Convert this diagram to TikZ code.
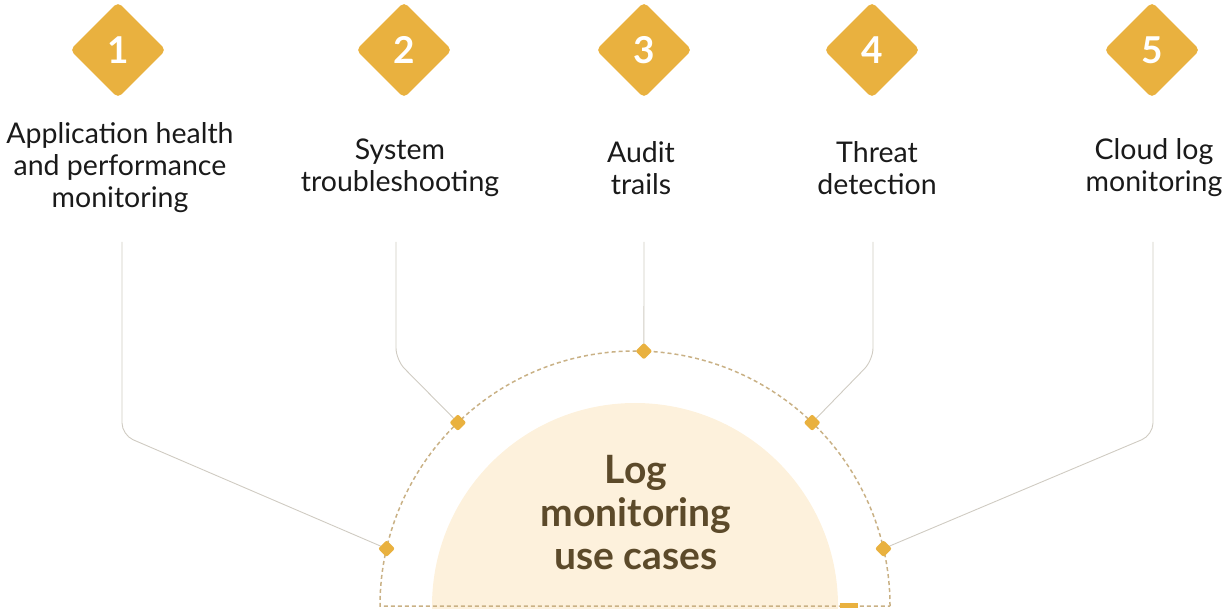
\documentclass[tikz,border=0pt]{standalone}
\usepackage{fontspec}
\setmainfont{Lato}
\usetikzlibrary{shapes.geometric}

\definecolor{gold}{HTML}{E9B13F}
\definecolor{cream}{HTML}{FDF1DC}
\definecolor{dashtan}{HTML}{C9B185}
\definecolor{linkgray}{HTML}{CFCBC2}
\definecolor{titlebrown}{HTML}{5C4A2A}
\definecolor{casetextcol}{HTML}{1A1A1A}

\tikzset{
	numbox/.style={diamond, fill=gold, minimum width=96pt, minimum height=96pt, inner sep=0pt, rounded corners=5pt, text=white, font=\fontsize{37}{37}\selectfont\bfseries},
	casetext/.style={align=center, text=casetextcol, font=\fontsize{28.5}{32}\selectfont},
	arcdot/.style={diamond, fill=gold, minimum width=17pt, minimum height=17pt, inner sep=0pt, rounded corners=2pt},
	link/.style={draw=linkgray, line width=0.9pt, rounded corners=12pt},
}

\begin{document}
\begin{tikzpicture}[x=1pt,y=1pt]
			\useasboundingbox (0,0) rectangle (1228,608);
			\coordinate (O) at (635,2);
			
			% half discs
			\begin{scope}
				\clip (0,0) rectangle (1228,608);
				\fill[cream] (O) circle (203);
			\end{scope}
			\draw[dashtan, line width=1.5pt, dash pattern=on 4pt off 3pt] (O) ++(255,0) arc (0:180:255) -- cycle;
			\fill[gold] (840,0) rectangle (858,4.7);
			\node[align=center, text=titlebrown, font=\fontsize{39}{43}\selectfont\bfseries] (title) at (636,95) {Log\\monitoring\\use cases};
			
			% numbered diamonds
			\node[numbox] (n1) at (118,558) {1};
			\node[numbox] (n2) at (404,558) {2};
			\node[numbox] (n3) at (644,558) {3};
			\node[numbox] (n4) at (872,558) {4};
			\node[numbox] (n5) at (1152,558) {5};
			
			\node[casetext] (t1) at (120,440) {Application health\\and performance\\monitoring};
			\node[casetext] (t2) at (400,440) {System\\troubleshooting};
			\node[casetext] (t3) at (641,440) {Audit\\trails};
			\node[casetext] (t4) at (877,440) {Threat\\detection};
			\node[casetext] (t5) at (1154,440) {Cloud log\\monitoring};
			
			% points on the arc
			\path (O) ++(167:255) coordinate (d1);
			\path (O) ++(134:255) coordinate (d2);
			\path (O) ++(88:255) coordinate (d3);
			\path (O) ++(46:255) coordinate (d4);
			\path (O) ++(13:255) coordinate (d5);
			
			\coordinate (s1) at (122,366);
			\coordinate (s2) at (396,366);
			\coordinate (s3) at (644,366);
			\coordinate (s4) at (873,366);
			\coordinate (s5) at (1153,366);
			\coordinate (b1) at (122,173);
			\coordinate (b2) at (396,248);
			\coordinate (b4) at (873,248);
			\coordinate (b5) at (1153,173);
			
			\draw[link] (s1) -- (b1) -- (d1);
			\draw[link] (s2) -- (b2) -- (d2);
			\draw[link] (s3) -- (d3);
			\draw[link] (s4) -- (b4) -- (d4);
			\draw[link] (s5) -- (b5) -- (d5);
			
			\node[arcdot] (dot1) at (d1) {};
			\node[arcdot] (dot2) at (d2) {};
			\node[arcdot] (dot3) at (d3) {};
			\node[arcdot] (dot4) at (d4) {};
			\node[arcdot] (dot5) at (d5) {};
		\end{tikzpicture}
\end{document}
